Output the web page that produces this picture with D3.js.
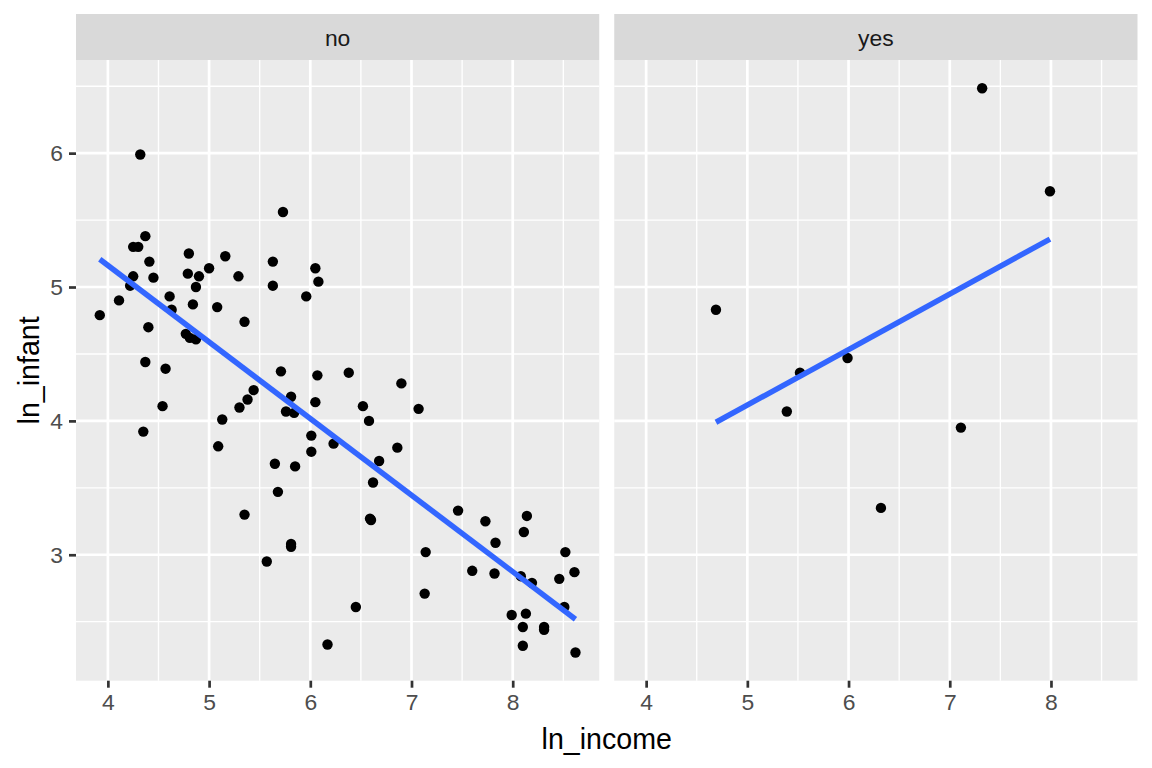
<!DOCTYPE html>
<html><head><meta charset="utf-8">
<script src="https://cdn.jsdelivr.net/npm/d3@7"></script>
<style>
body{margin:0;background:#fff}
text{font-family:Arial,"Liberation Sans",sans-serif}
</style>
</head><body>
<svg id="chart" width="1152" height="768"></svg>
<script>
// ---- data ----
const panels = ["no", "yes"];
const noIncome = [3.92,4.11,4.32,4.37,4.25,4.30,4.41,4.80,5.16,4.25,4.45,4.22,4.79,4.90,5.00,5.29,5.63,5.63,4.87,4.61,
  4.84,5.08,4.63,4.40,5.35,4.77,4.81,4.87,4.37,4.57,4.54,4.35,5.44,5.38,5.30,5.13,5.09,5.73,6.05,6.08,
  5.96,5.71,6.07,6.38,6.90,7.07,5.81,6.05,5.76,5.84,6.52,6.58,6.01,6.23,6.01,6.86,5.65,5.85,6.68,6.62,
  5.68,5.35,6.59,6.60,5.81,5.81,5.57,7.14,7.13,6.45,6.17,7.46,8.14,7.73,8.11,7.83,8.52,7.60,7.82,8.61,
  8.08,8.19,8.46,8.51,7.99,8.13,8.10,8.31,8.31,8.10,8.62];
const noInfant = [4.79,4.90,5.99,5.38,5.30,5.30,5.19,5.25,5.23,5.08,5.07,5.01,5.10,5.08,5.14,5.08,5.19,5.01,5.00,4.93,
  4.87,4.85,4.83,4.70,4.74,4.65,4.62,4.61,4.44,4.39,4.11,3.92,4.23,4.16,4.10,4.01,3.81,5.56,5.14,5.04,
  4.93,4.37,4.34,4.36,4.28,4.09,4.18,4.14,4.07,4.06,4.11,4.00,3.89,3.83,3.77,3.80,3.68,3.66,3.70,3.54,
  3.47,3.30,3.27,3.26,3.08,3.06,2.95,3.02,2.71,2.61,2.33,3.33,3.29,3.25,3.17,3.09,3.02,2.88,2.86,2.87,
  2.84,2.79,2.82,2.61,2.55,2.56,2.46,2.46,2.44,2.32,2.27];
const yesIncome = [4.69,5.39,5.52,5.99,6.32,7.11,7.32,7.99];
const yesInfant = [4.83,4.07,4.36,4.47,3.35,3.95,6.485,5.715];
const xTicks = [4,5,6,7,8];
const yTicks = [3,4,5,6];
const xMinor = [4.5,5.5,6.5,7.5,8.5];
const yMinor = [2.5,3.5,4.5,5.5,6.5];
const xTitle = "ln_income";
const yTitle = "ln_infant";

const series = {
  no: noIncome.map((x,i)=>({x, y:noInfant[i]})),
  yes: yesIncome.map((x,i)=>({x, y:yesInfant[i]}))
};

// ---- layout ----
const svg = d3.select("#chart");
const left0 = 76, rightEnd = 1137.5, gap = 15;
const panelW = (rightEnd - left0 - gap) / 2;
const stripTop = 14, panelTop = 60, panelBottom = 680.7;

const allX = noIncome.concat(yesIncome), allY = noInfant.concat(yesInfant);
function expand([a,b]){ const d=(b-a)*0.05; return [a-d,b+d]; }
const xDom = expand(d3.extent(allX)), yDom = expand(d3.extent(allY));

const y = d3.scaleLinear().domain(yDom).range([panelBottom, panelTop]);

panels.forEach((p, pi) => {
  const px = left0 + pi*(panelW+gap);
  const x = d3.scaleLinear().domain(xDom).range([0, panelW]);
  const g = svg.append("g").attr("transform", `translate(${px},0)`);

  // strip
  g.append("rect").attr("x",0).attr("y",stripTop).attr("width",panelW).attr("height",panelTop-stripTop).attr("fill","#D9D9D9");
  g.append("text").attr("x",panelW/2).attr("y",46).attr("text-anchor","middle")
    .attr("font-size",22.9).attr("fill","#1A1A1A").text(p);

  // panel bg
  g.append("rect").attr("x",0).attr("y",panelTop).attr("width",panelW).attr("height",panelBottom-panelTop).attr("fill","#EBEBEB");

  // minor grid
  g.selectAll(".vmin").data(xMinor.filter(v=>v>xDom[0]&&v<xDom[1])).join("line")
    .attr("x1",d=>x(d)).attr("x2",d=>x(d)).attr("y1",panelTop).attr("y2",panelBottom)
    .attr("stroke","#fff").attr("stroke-width",1.35);
  g.selectAll(".hmin").data(yMinor.filter(v=>v>yDom[0]&&v<yDom[1])).join("line")
    .attr("x1",0).attr("x2",panelW).attr("y1",d=>y(d)).attr("y2",d=>y(d))
    .attr("stroke","#fff").attr("stroke-width",1.35);
  // major grid
  g.selectAll(".vmaj").data(xTicks).join("line")
    .attr("x1",d=>x(d)).attr("x2",d=>x(d)).attr("y1",panelTop).attr("y2",panelBottom)
    .attr("stroke","#fff").attr("stroke-width",2.7);
  g.selectAll(".hmaj").data(yTicks).join("line")
    .attr("x1",0).attr("x2",panelW).attr("y1",d=>y(d)).attr("y2",d=>y(d))
    .attr("stroke","#fff").attr("stroke-width",2.7);

  // points
  const data = series[p];
  g.selectAll("circle").data(data).join("circle")
    .attr("cx",d=>x(d.x)).attr("cy",d=>y(d.y)).attr("r",5.2).attr("fill","#000");

  // linear fit
  const mx = d3.mean(data,d=>d.x), my = d3.mean(data,d=>d.y);
  const sxy = d3.sum(data,d=>(d.x-mx)*(d.y-my)), sxx = d3.sum(data,d=>(d.x-mx)**2);
  const b = sxy/sxx, a = my - b*mx;
  const [x0,x1] = d3.extent(data,d=>d.x);
  const fit = [x0,x1].map(v=>({x:v,y:a+b*v}));
  g.append("path").datum(fit)
    .attr("d", d3.line().x(d=>x(d.x)).y(d=>y(d.y)))
    .attr("stroke","#3366FF").attr("stroke-width",5.5).attr("fill","none");

  // x axis
  const xa = g.append("g").attr("transform",`translate(0,${panelBottom})`)
    .call(d3.axisBottom(x).tickValues(xTicks).tickSize(7).tickPadding(6).tickFormat(d3.format("d")));
  xa.select(".domain").remove();
  xa.selectAll("line").attr("stroke","#333333").attr("stroke-width",2.7);
  xa.selectAll("text").attr("font-size",22.9).attr("fill","#4D4D4D").attr("font-family","Arial, 'Liberation Sans', sans-serif");

  if (pi === 0) {
    const ya = g.append("g")
      .call(d3.axisLeft(y).tickValues(yTicks).tickSize(7).tickPadding(6).tickFormat(d3.format("d")));
    ya.select(".domain").remove();
    ya.selectAll("line").attr("stroke","#333333").attr("stroke-width",2.7);
    ya.selectAll("text").attr("font-size",22.9).attr("fill","#4D4D4D").attr("font-family","Arial, 'Liberation Sans', sans-serif");
  }
});

// axis titles
svg.append("text").attr("x",(left0+rightEnd)/2).attr("y",749).attr("text-anchor","middle")
  .attr("font-size",28.6).attr("fill","#000").text(xTitle);
svg.append("text").attr("transform",`translate(39,${(panelTop+panelBottom)/2}) rotate(-90)`)
  .attr("text-anchor","middle").attr("font-size",28.6).attr("fill","#000").text(yTitle);
</script>
</body></html>
